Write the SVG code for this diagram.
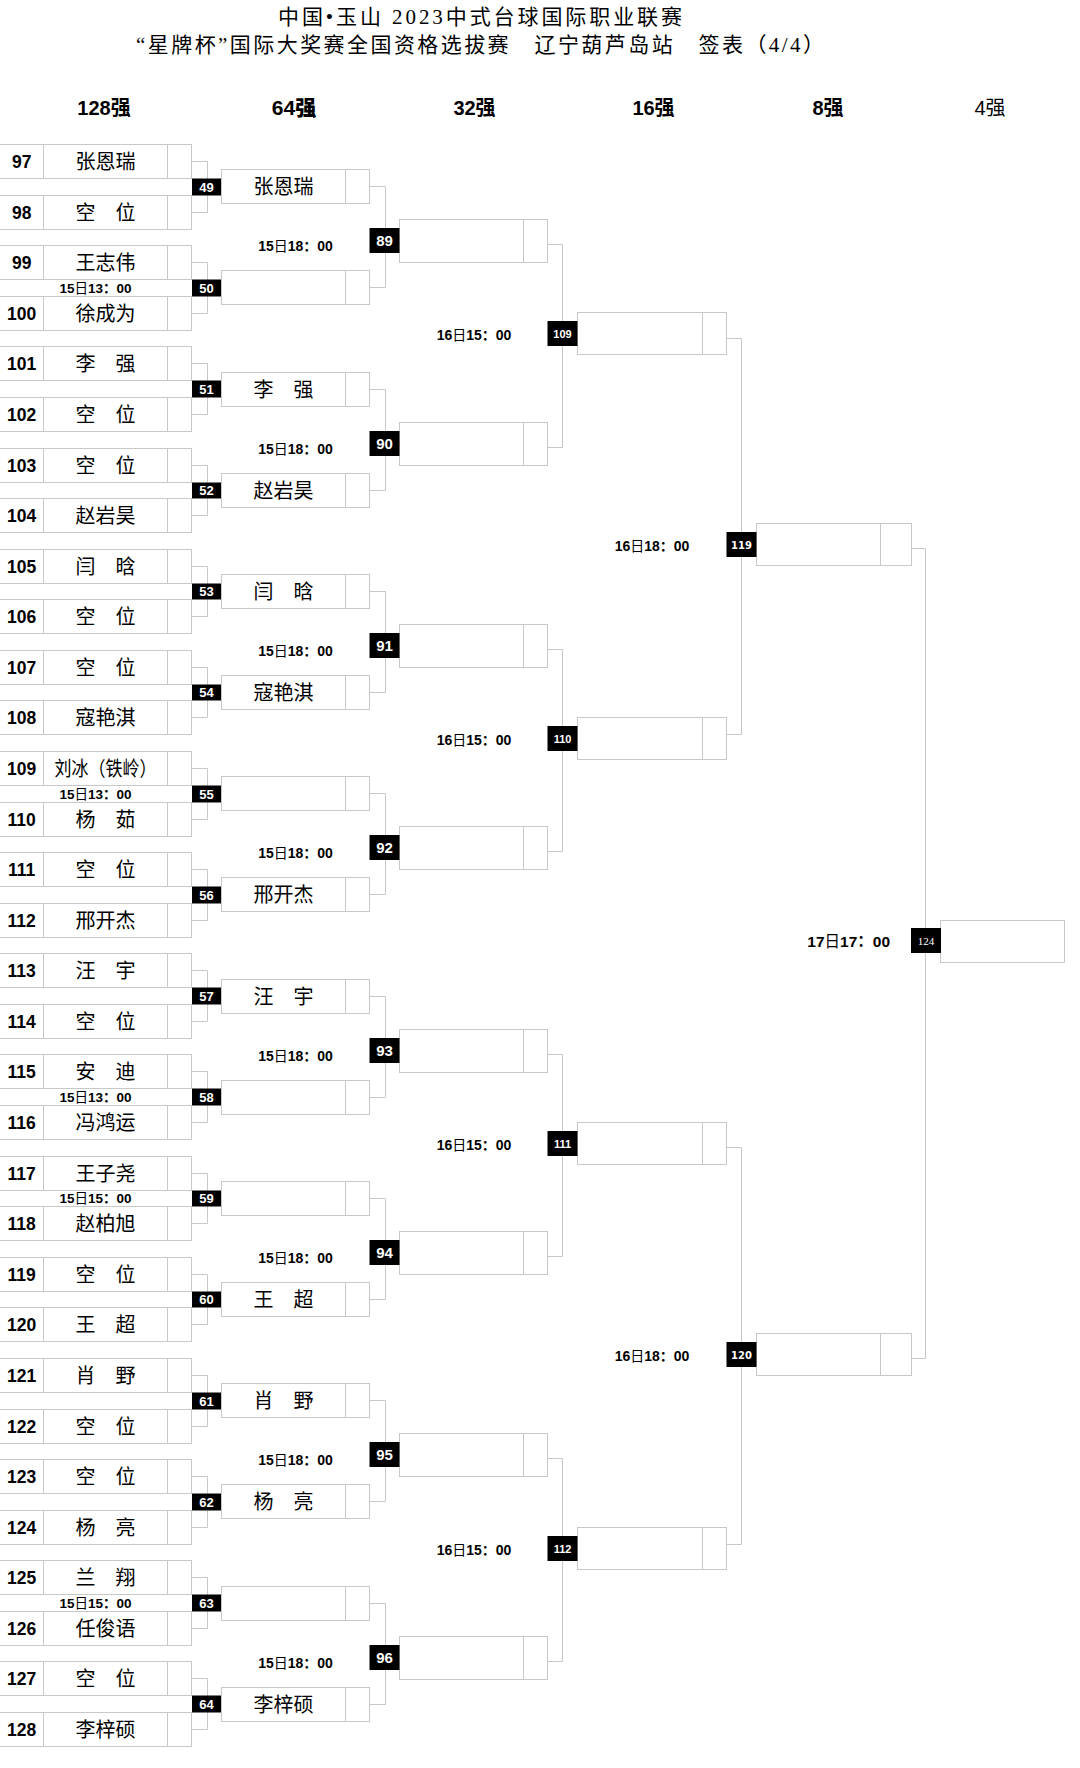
<svg xmlns="http://www.w3.org/2000/svg" xmlns:xlink="http://www.w3.org/1999/xlink" width="1080" height="1768" viewBox="0 0 1080 1768">
<style>
.ln{fill:none;stroke:#c8c8c8;stroke-width:1}
.bx{fill:#fff;stroke:#c8c8c8;stroke-width:1}
.bd{fill:#000}
.seed{font:bold 17.5px "Liberation Sans",Arial,sans-serif;text-anchor:middle;fill:#000}
.nm{font:400 20px "Noto Sans CJK SC",sans-serif;text-anchor:middle;fill:#000}
.t1{font:bold 13.5px "Liberation Sans","Noto Sans CJK SC",sans-serif;text-anchor:middle;fill:#000}
.t2{font:bold 14px "Liberation Sans","Noto Sans CJK SC",sans-serif;text-anchor:middle;fill:#000}
.t3{font:bold 15.5px "Liberation Sans","Noto Sans CJK SC",sans-serif;text-anchor:middle;fill:#000}
.r{font-weight:400}
.n1{font:bold 13px "Liberation Sans",Arial,sans-serif;text-anchor:middle;fill:#fff}
.n2{font:bold 15px "Liberation Sans",Arial,sans-serif;text-anchor:middle;fill:#fff}
.n3{font:bold 11px "Liberation Sans",Arial,sans-serif;text-anchor:middle;fill:#fff}
.n4{font:bold 10px "DejaVu Sans",Verdana,sans-serif;text-anchor:middle;fill:#fff}
.n5{font:400 11px "Liberation Serif","Times New Roman",serif;text-anchor:middle;fill:#fff}
.hd{font:bold 20px "Liberation Sans","Noto Sans CJK SC",sans-serif;text-anchor:middle;fill:#000}
.tt{font:400 21px "Liberation Serif","Noto Sans CJK SC",serif;text-anchor:middle;fill:#000}
</style>
<defs>
<g id="row"><path class="ln" d="M0 0.5H192M0 34.5H192M43.5 0.5V34.5M167.5 0.5V34.5M191.5 0.5V34.5"/></g>
<g id="b64"><rect class="bx" x="221.5" y="0.5" width="148" height="34"/><path class="ln" d="M345.5 0.5V34.5"/></g>
<g id="b32"><rect class="bx" x="399.5" y="0.5" width="148" height="43"/><path class="ln" d="M523.5 0.5V43.5"/></g>
<g id="b16"><rect class="bx" x="577.5" y="0.5" width="149" height="42"/><path class="ln" d="M702.5 0.5V42.5"/></g>
<g id="b8"><rect class="bx" x="756.5" y="0.5" width="155" height="42"/><path class="ln" d="M880.5 0.5V42.5"/></g>
</defs>
<rect width="1080" height="1768" fill="#fff"/>

<g id="title">
<text class="tt" x="480" y="24" textLength="404" lengthAdjust="spacing">中国•玉山 2023中式台球国际职业联赛</text>
<text class="tt" x="480" y="52" textLength="688" lengthAdjust="spacing">“星牌杯”国际大奖赛全国资格选拔赛　辽宁葫芦岛站　签表（4/4）</text>
</g>

<g id="headers">
<text class="hd" x="104" y="115">128强</text>
<text class="hd" x="294" y="115" style="font-size:21px;font-weight:900">64强</text>
<text class="hd" x="474.5" y="115">32强</text>
<text class="hd" x="653.5" y="115">16强</text>
<text class="hd" x="828" y="115">8强</text>
<text class="hd" x="990" y="115" style="font-weight:400">4强</text>
</g>

<g id="connectors" class="ln">
<path d="M192 161.5H207.5V212.5H192M192 262.5H207.5V313.5H192M192 363.5H207.5V414.5H192M192 465.5H207.5V515.5H192M192 566.5H207.5V616.5H192M192 667.5H207.5V717.5H192M192 768.5H207.5V819.5H192M192 869.5H207.5V920.5H192M192 970.5H207.5V1021.5H192M192 1071.5H207.5V1122.5H192M192 1173.5H207.5V1223.5H192M192 1274.5H207.5V1324.5H192M192 1375.5H207.5V1426.5H192M192 1476.5H207.5V1527.5H192M192 1577.5H207.5V1628.5H192M192 1678.5H207.5V1729.5H192"/>
<path d="M369.5 186.5H385.5V287.5H369.5M369.5 389.5H385.5V490.5H369.5M369.5 591.5H385.5V692.5H369.5M369.5 793.5H385.5V894.5H369.5M369.5 996.5H385.5V1097.5H369.5M369.5 1198.5H385.5V1299.5H369.5M369.5 1400.5H385.5V1501.5H369.5M369.5 1603.5H385.5V1704.5H369.5"/>
<path d="M547.5 244.5H562.5V447.5H547.5M547.5 649.5H562.5V851.5H547.5M547.5 1054.5H562.5V1256.5H547.5M547.5 1458.5H562.5V1661.5H547.5"/>
<path d="M726.5 338.5H741.5V734.5H726.5M726.5 1147.5H741.5V1544.5H726.5"/>
<path d="M911.5 548.5H925.5V1358.5H911.5"/>
</g>

<g id="players">
<g id="p97"><use xlink:href="#row" y="144"/><text class="seed" x="21.7" y="167.5">97</text><text class="nm" x="105.5" y="168.5">张恩瑞</text></g>
<g id="p98"><use xlink:href="#row" y="195"/><text class="seed" x="21.7" y="218.5">98</text><text class="nm" x="105.5" y="219.5">空　位</text></g>
<g id="p99"><use xlink:href="#row" y="245"/><text class="seed" x="21.7" y="268.5">99</text><text class="nm" x="105.5" y="269.5">王志伟</text></g>
<g id="p100"><use xlink:href="#row" y="296"/><text class="seed" x="21.7" y="319.5">100</text><text class="nm" x="105.5" y="320.5">徐成为</text></g>
<g id="p101"><use xlink:href="#row" y="346"/><text class="seed" x="21.7" y="369.5">101</text><text class="nm" x="105.5" y="370.5">李　强</text></g>
<g id="p102"><use xlink:href="#row" y="397"/><text class="seed" x="21.7" y="420.5">102</text><text class="nm" x="105.5" y="421.5">空　位</text></g>
<g id="p103"><use xlink:href="#row" y="448"/><text class="seed" x="21.7" y="471.5">103</text><text class="nm" x="105.5" y="472.5">空　位</text></g>
<g id="p104"><use xlink:href="#row" y="498"/><text class="seed" x="21.7" y="521.5">104</text><text class="nm" x="105.5" y="522.5">赵岩昊</text></g>
<g id="p105"><use xlink:href="#row" y="549"/><text class="seed" x="21.7" y="572.5">105</text><text class="nm" x="105.5" y="573.5">闫　晗</text></g>
<g id="p106"><use xlink:href="#row" y="599"/><text class="seed" x="21.7" y="622.5">106</text><text class="nm" x="105.5" y="623.5">空　位</text></g>
<g id="p107"><use xlink:href="#row" y="650"/><text class="seed" x="21.7" y="673.5">107</text><text class="nm" x="105.5" y="674.5">空　位</text></g>
<g id="p108"><use xlink:href="#row" y="700"/><text class="seed" x="21.7" y="723.5">108</text><text class="nm" x="105.5" y="724.5">寇艳淇</text></g>
<g id="p109"><use xlink:href="#row" y="751"/><text class="seed" x="21.7" y="774.5">109</text><text class="nm" x="105.5" y="775.5" textLength="102" lengthAdjust="spacingAndGlyphs">刘冰（铁岭）</text></g>
<g id="p110"><use xlink:href="#row" y="802"/><text class="seed" x="21.7" y="825.5">110</text><text class="nm" x="105.5" y="826.5">杨　茹</text></g>
<g id="p111"><use xlink:href="#row" y="852"/><text class="seed" x="21.7" y="875.5">111</text><text class="nm" x="105.5" y="876.5">空　位</text></g>
<g id="p112"><use xlink:href="#row" y="903"/><text class="seed" x="21.7" y="926.5">112</text><text class="nm" x="105.5" y="927.5">邢开杰</text></g>
<g id="p113"><use xlink:href="#row" y="953"/><text class="seed" x="21.7" y="976.5">113</text><text class="nm" x="105.5" y="977.5">汪　宇</text></g>
<g id="p114"><use xlink:href="#row" y="1004"/><text class="seed" x="21.7" y="1027.5">114</text><text class="nm" x="105.5" y="1028.5">空　位</text></g>
<g id="p115"><use xlink:href="#row" y="1054"/><text class="seed" x="21.7" y="1077.5">115</text><text class="nm" x="105.5" y="1078.5">安　迪</text></g>
<g id="p116"><use xlink:href="#row" y="1105"/><text class="seed" x="21.7" y="1128.5">116</text><text class="nm" x="105.5" y="1129.5">冯鸿运</text></g>
<g id="p117"><use xlink:href="#row" y="1156"/><text class="seed" x="21.7" y="1179.5">117</text><text class="nm" x="105.5" y="1180.5">王子尧</text></g>
<g id="p118"><use xlink:href="#row" y="1206"/><text class="seed" x="21.7" y="1229.5">118</text><text class="nm" x="105.5" y="1230.5">赵柏旭</text></g>
<g id="p119"><use xlink:href="#row" y="1257"/><text class="seed" x="21.7" y="1280.5">119</text><text class="nm" x="105.5" y="1281.5">空　位</text></g>
<g id="p120"><use xlink:href="#row" y="1307"/><text class="seed" x="21.7" y="1330.5">120</text><text class="nm" x="105.5" y="1331.5">王　超</text></g>
<g id="p121"><use xlink:href="#row" y="1358"/><text class="seed" x="21.7" y="1381.5">121</text><text class="nm" x="105.5" y="1382.5">肖　野</text></g>
<g id="p122"><use xlink:href="#row" y="1409"/><text class="seed" x="21.7" y="1432.5">122</text><text class="nm" x="105.5" y="1433.5">空　位</text></g>
<g id="p123"><use xlink:href="#row" y="1459"/><text class="seed" x="21.7" y="1482.5">123</text><text class="nm" x="105.5" y="1483.5">空　位</text></g>
<g id="p124"><use xlink:href="#row" y="1510"/><text class="seed" x="21.7" y="1533.5">124</text><text class="nm" x="105.5" y="1534.5">杨　亮</text></g>
<g id="p125"><use xlink:href="#row" y="1560"/><text class="seed" x="21.7" y="1583.5">125</text><text class="nm" x="105.5" y="1584.5">兰　翔</text></g>
<g id="p126"><use xlink:href="#row" y="1611"/><text class="seed" x="21.7" y="1634.5">126</text><text class="nm" x="105.5" y="1635.5">任俊语</text></g>
<g id="p127"><use xlink:href="#row" y="1661"/><text class="seed" x="21.7" y="1684.5">127</text><text class="nm" x="105.5" y="1685.5">空　位</text></g>
<g id="p128"><use xlink:href="#row" y="1712"/><text class="seed" x="21.7" y="1735.5">128</text><text class="nm" x="105.5" y="1736.5">李梓硕</text></g>
</g>

<g id="round64">
<g id="m49"><rect class="bd" x="192" y="178.5" width="29" height="17"/><text class="n1" x="206.5" y="191.6">49</text><use xlink:href="#b64" y="169"/><text class="nm" x="283.5" y="193.5">张恩瑞</text></g>
<g id="m50"><text class="t1" x="95.5" y="292.6">15<tspan class="r">日</tspan>13：00</text><rect class="bd" x="192" y="279.5" width="29" height="17"/><text class="n1" x="206.5" y="292.6">50</text><use xlink:href="#b64" y="270"/></g>
<g id="m51"><rect class="bd" x="192" y="380.5" width="29" height="17"/><text class="n1" x="206.5" y="393.6">51</text><use xlink:href="#b64" y="372"/><text class="nm" x="283.5" y="396.5">李　强</text></g>
<g id="m52"><rect class="bd" x="192" y="482.5" width="29" height="16"/><text class="n1" x="206.5" y="495.1">52</text><use xlink:href="#b64" y="473"/><text class="nm" x="283.5" y="497.5">赵岩昊</text></g>
<g id="m53"><rect class="bd" x="192" y="583.5" width="29" height="16"/><text class="n1" x="206.5" y="596.1">53</text><use xlink:href="#b64" y="574"/><text class="nm" x="283.5" y="598.5">闫　晗</text></g>
<g id="m54"><rect class="bd" x="192" y="684.5" width="29" height="16"/><text class="n1" x="206.5" y="697.1">54</text><use xlink:href="#b64" y="675"/><text class="nm" x="283.5" y="699.5">寇艳淇</text></g>
<g id="m55"><text class="t1" x="95.5" y="798.6">15<tspan class="r">日</tspan>13：00</text><rect class="bd" x="192" y="785.5" width="29" height="17"/><text class="n1" x="206.5" y="798.6">55</text><use xlink:href="#b64" y="776"/></g>
<g id="m56"><rect class="bd" x="192" y="886.5" width="29" height="17"/><text class="n1" x="206.5" y="899.6">56</text><use xlink:href="#b64" y="877"/><text class="nm" x="283.5" y="901.5">邢开杰</text></g>
<g id="m57"><rect class="bd" x="192" y="987.5" width="29" height="17"/><text class="n1" x="206.5" y="1000.6">57</text><use xlink:href="#b64" y="979"/><text class="nm" x="283.5" y="1003.5">汪　宇</text></g>
<g id="m58"><text class="t1" x="95.5" y="1101.6">15<tspan class="r">日</tspan>13：00</text><rect class="bd" x="192" y="1088.5" width="29" height="17"/><text class="n1" x="206.5" y="1101.6">58</text><use xlink:href="#b64" y="1080"/></g>
<g id="m59"><text class="t1" x="95.5" y="1203.1">15<tspan class="r">日</tspan>15：00</text><rect class="bd" x="192" y="1190.5" width="29" height="16"/><text class="n1" x="206.5" y="1203.1">59</text><use xlink:href="#b64" y="1181"/></g>
<g id="m60"><rect class="bd" x="192" y="1291.5" width="29" height="16"/><text class="n1" x="206.5" y="1304.1">60</text><use xlink:href="#b64" y="1282"/><text class="nm" x="283.5" y="1306.5">王　超</text></g>
<g id="m61"><rect class="bd" x="192" y="1392.5" width="29" height="17"/><text class="n1" x="206.5" y="1405.6">61</text><use xlink:href="#b64" y="1383"/><text class="nm" x="283.5" y="1407.5">肖　野</text></g>
<g id="m62"><rect class="bd" x="192" y="1493.5" width="29" height="17"/><text class="n1" x="206.5" y="1506.6">62</text><use xlink:href="#b64" y="1484"/><text class="nm" x="283.5" y="1508.5">杨　亮</text></g>
<g id="m63"><text class="t1" x="95.5" y="1607.6">15<tspan class="r">日</tspan>15：00</text><rect class="bd" x="192" y="1594.5" width="29" height="17"/><text class="n1" x="206.5" y="1607.6">63</text><use xlink:href="#b64" y="1586"/></g>
<g id="m64"><rect class="bd" x="192" y="1695.5" width="29" height="17"/><text class="n1" x="206.5" y="1708.6">64</text><use xlink:href="#b64" y="1687"/><text class="nm" x="283.5" y="1711.5">李梓硕</text></g>
</g>

<g id="round32">
<g id="m89"><text class="t2" x="295.5" y="250.5">15<tspan class="r">日</tspan>18：00</text><use xlink:href="#b32" y="219"/><rect class="bd" x="369.5" y="228" width="30" height="25"/><text class="n2" x="384.5" y="246">89</text></g>
<g id="m90"><text class="t2" x="295.5" y="453.5">15<tspan class="r">日</tspan>18：00</text><use xlink:href="#b32" y="422"/><rect class="bd" x="369.5" y="431" width="30" height="25"/><text class="n2" x="384.5" y="449">90</text></g>
<g id="m91"><text class="t2" x="295.5" y="655.5">15<tspan class="r">日</tspan>18：00</text><use xlink:href="#b32" y="624"/><rect class="bd" x="369.5" y="633" width="30" height="25"/><text class="n2" x="384.5" y="651">91</text></g>
<g id="m92"><text class="t2" x="295.5" y="857.5">15<tspan class="r">日</tspan>18：00</text><use xlink:href="#b32" y="826"/><rect class="bd" x="369.5" y="835" width="30" height="25"/><text class="n2" x="384.5" y="853">92</text></g>
<g id="m93"><text class="t2" x="295.5" y="1060.5">15<tspan class="r">日</tspan>18：00</text><use xlink:href="#b32" y="1029"/><rect class="bd" x="369.5" y="1038" width="30" height="25"/><text class="n2" x="384.5" y="1056">93</text></g>
<g id="m94"><text class="t2" x="295.5" y="1262.5">15<tspan class="r">日</tspan>18：00</text><use xlink:href="#b32" y="1231"/><rect class="bd" x="369.5" y="1240" width="30" height="25"/><text class="n2" x="384.5" y="1258">94</text></g>
<g id="m95"><text class="t2" x="295.5" y="1464.5">15<tspan class="r">日</tspan>18：00</text><use xlink:href="#b32" y="1433"/><rect class="bd" x="369.5" y="1442" width="30" height="25"/><text class="n2" x="384.5" y="1460">95</text></g>
<g id="m96"><text class="t2" x="295.5" y="1667.5">15<tspan class="r">日</tspan>18：00</text><use xlink:href="#b32" y="1636"/><rect class="bd" x="369.5" y="1645" width="30" height="25"/><text class="n2" x="384.5" y="1663">96</text></g>
</g>

<g id="round16">
<g id="m109"><text class="t2" x="474" y="340">16<tspan class="r">日</tspan>15：00</text><use xlink:href="#b16" y="312"/><rect class="bd" x="547.5" y="321" width="30" height="25"/><text class="n3" x="562.5" y="337.5">109</text></g>
<g id="m110"><text class="t2" x="474" y="745">16<tspan class="r">日</tspan>15：00</text><use xlink:href="#b16" y="717"/><rect class="bd" x="547.5" y="726" width="30" height="25"/><text class="n3" x="562.5" y="742.5">110</text></g>
<g id="m111"><text class="t2" x="474" y="1150">16<tspan class="r">日</tspan>15：00</text><use xlink:href="#b16" y="1122"/><rect class="bd" x="547.5" y="1131" width="30" height="25"/><text class="n3" x="562.5" y="1147.5">111</text></g>
<g id="m112"><text class="t2" x="474" y="1555">16<tspan class="r">日</tspan>15：00</text><use xlink:href="#b16" y="1527"/><rect class="bd" x="547.5" y="1536" width="30" height="25"/><text class="n3" x="562.5" y="1552.5">112</text></g>
</g>

<g id="round8">
<g id="m119"><text class="t2" x="652" y="550.5">16<tspan class="r">日</tspan>18：00</text><use xlink:href="#b8" y="523"/><rect class="bd" x="726.5" y="532" width="30" height="25"/><text class="n4" x="741.5" y="548.5">119</text></g>
<g id="m120"><text class="t2" x="652" y="1360.5">16<tspan class="r">日</tspan>18：00</text><use xlink:href="#b8" y="1333"/><rect class="bd" x="726.5" y="1342" width="30" height="25"/><text class="n4" x="741.5" y="1358.5">120</text></g>
</g>

<g id="m124">
<text class="t3" x="848.7" y="947">17<tspan class="r">日</tspan>17：00</text>
<rect class="bx" x="940.5" y="920.5" width="124" height="42"/>
<rect class="bd" x="911" y="928" width="30" height="25"/>
<text class="n5" x="926" y="944.5">124</text>
</g>
</svg>
